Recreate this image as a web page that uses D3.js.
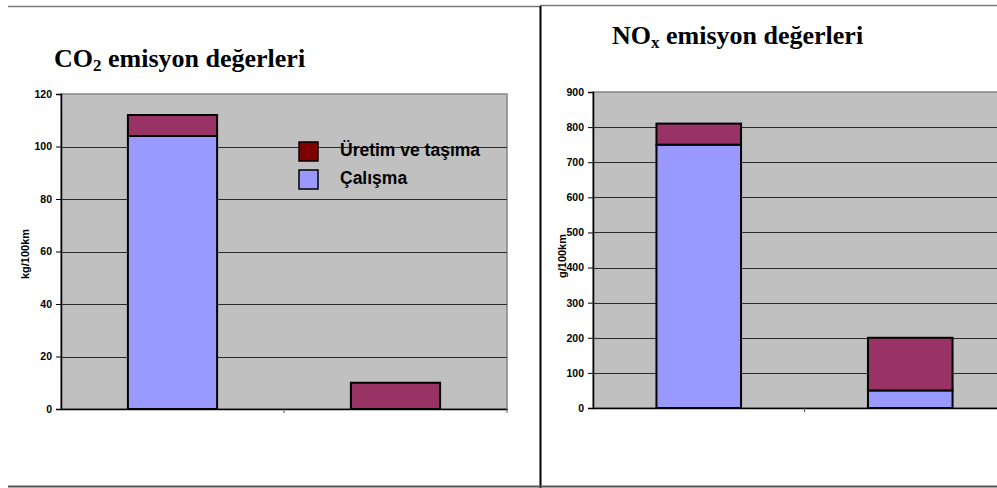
<!DOCTYPE html>
<html>
<head>
<meta charset="utf-8">
<script src="https://cdn.jsdelivr.net/npm/d3@7"></script>
<style>
  html, body { margin: 0; padding: 0; background: #fff; }
  svg { display: block; }
</style>
</head>
<body>
<svg id="chart" width="997" height="488"></svg>
<script>
// Emission comparison: two stacked bar panels
const categories = ["A", "B"];
const seriesNames = ["Çalışma", "Üretim ve taşıma"];

const co2Calisma = [104, 0];
const co2Uretim = [8, 10];
const co2Ticks = [0, 20, 40, 60, 80, 100, 120];

const noxCalisma = [750, 50];
const noxUretim = [60, 150];
const noxTicks = [0, 100, 200, 300, 400, 500, 600, 700, 800, 900];

const colors = { "Çalışma": "#9999ff", "Üretim ve taşıma": "#993366" };
const legendColors = { "Üretim ve taşıma": "#800000", "Çalışma": "#9999ff" };

const svg = d3.select("#chart");

// page frame lines
svg.append("line").attr("x1", 8).attr("x2", 540).attr("y1", 6.5).attr("y2", 6.5)
  .attr("stroke", "#7a7a7a").attr("stroke-width", 1.5);
svg.append("line").attr("x1", 540).attr("x2", 997).attr("y1", 5.5).attr("y2", 5.5)
  .attr("stroke", "#7a7a7a").attr("stroke-width", 1.5);
svg.append("line").attr("x1", 540.5).attr("x2", 540.5).attr("y1", 6).attr("y2", 488)
  .attr("stroke", "#000").attr("stroke-width", 2);
svg.append("line").attr("x1", 8).attr("x2", 997).attr("y1", 486.5).attr("y2", 486.5)
  .attr("stroke", "#555").attr("stroke-width", 2);

function panel(opts) {
  const g = svg.append("g");
  const x = d3.scaleBand().domain(categories).range([opts.left, opts.right]).paddingInner(0).paddingOuter(0);
  const y = d3.scaleLinear().domain([0, opts.max]).range([opts.bottom, opts.top]);

  // plot area
  g.append("rect").attr("x", opts.left).attr("y", opts.top)
    .attr("width", opts.right - opts.left).attr("height", opts.bottom - opts.top)
    .attr("fill", "#c0c0c0").attr("stroke", "#858585").attr("stroke-width", 1.5);

  // gridlines
  g.append("g").selectAll("line").data(opts.ticks.filter(t => t > 0 && t < opts.max)).join("line")
    .attr("x1", opts.left).attr("x2", opts.right)
    .attr("y1", d => Math.round(y(d)) + 0.5).attr("y2", d => Math.round(y(d)) + 0.5)
    .attr("stroke", "#2a2a2a").attr("stroke-width", 1);

  // stacked bars
  const rows = categories.map((c, i) => ({ cat: c, "Çalışma": opts.calisma[i], "Üretim ve taşıma": opts.uretim[i] }));
  const stack = d3.stack().keys(seriesNames)(rows);
  const bw = x.bandwidth() / 2.5;
  stack.forEach(layer => {
    g.append("g").selectAll("rect").data(layer.filter(d => d[1] - d[0] > 0)).join("rect")
      .attr("x", d => x(d.data.cat) + (x.bandwidth() - bw) / 2)
      .attr("width", bw)
      .attr("y", d => y(d[1]))
      .attr("height", d => y(d[0]) - y(d[1]))
      .attr("fill", colors[layer.key])
      .attr("stroke", "#000").attr("stroke-width", 2);
  });

  // value axis
  const yAxis = d3.axisLeft(y).tickValues(opts.ticks).tickSize(5).tickPadding(4).tickFormat(d3.format("d"));
  const ya = g.append("g").attr("transform", `translate(${opts.left},0)`).call(yAxis);
  ya.select(".domain").attr("stroke", "#000").attr("stroke-width", 1.5);
  ya.selectAll(".tick line").attr("stroke", "#000");
  ya.selectAll("text").attr("font-family", "Liberation Sans, Arial, sans-serif")
    .attr("font-weight", "bold").attr("font-size", 10.5).attr("fill", "#000");

  // category axis (tick marks only)
  const xAxis = d3.axisBottom(x).tickValues([]).tickSizeOuter(0);
  const xa = g.append("g").attr("transform", `translate(0,${opts.bottom})`).call(xAxis);
  xa.select(".domain").attr("stroke", "#000").attr("stroke-width", 1.5);
  const bounds = [opts.left + x.bandwidth(), opts.left + 2 * x.bandwidth()];
  g.append("g").selectAll("line").data(bounds).join("line")
    .attr("x1", d => d).attr("x2", d => d)
    .attr("y1", opts.bottom).attr("y2", opts.bottom + 4)
    .attr("stroke", "#555").attr("stroke-width", 1);

  // unit label
  g.append("text")
    .attr("transform", `translate(${opts.unitX},${opts.unitY}) rotate(-90)`)
    .attr("text-anchor", "middle")
    .attr("font-family", "Liberation Sans, Arial, sans-serif")
    .attr("font-weight", "bold").attr("font-size", 11)
    .text(opts.unit);

  // title with subscript
  const t = g.append("text").attr("x", opts.titleX).attr("y", opts.titleY)
    .attr("font-family", "Liberation Serif, Times New Roman, serif")
    .attr("font-weight", "bold").attr("font-size", 26).attr("fill", "#000");
  t.append("tspan").text(opts.titleMain);
  t.append("tspan").attr("font-size", 17).attr("dy", 4).text(opts.titleSub);
  t.append("tspan").attr("dy", -4).text(opts.titleRest);

  return g;
}

const co2 = panel({
  left: 61, right: 507, top: 94, bottom: 409, max: 120,
  ticks: co2Ticks, calisma: co2Calisma, uretim: co2Uretim,
  unit: "kg/100km", unitX: 29, unitY: 254,
  titleX: 54, titleY: 67, titleMain: "CO", titleSub: "2", titleRest: " emisyon değerleri"
});

// legend
const legend = co2.append("g");
const legendItems = ["Üretim ve taşıma", "Çalışma"];
legend.selectAll("rect").data(legendItems).join("rect")
  .attr("x", 299).attr("y", (d, i) => 142 + i * 28)
  .attr("width", 19).attr("height", 19)
  .attr("fill", d => legendColors[d]).attr("stroke", "#000").attr("stroke-width", 1.5);
legend.selectAll("text").data(legendItems).join("text")
  .attr("x", 340).attr("y", (d, i) => 156 + i * 28)
  .attr("font-family", "Liberation Sans, Arial, sans-serif")
  .attr("font-weight", "bold").attr("font-size", 17.5).attr("fill", "#000")
  .text(d => d);

panel({
  left: 593, right: 1016, top: 92, bottom: 408, max: 900,
  ticks: noxTicks, calisma: noxCalisma, uretim: noxUretim,
  unit: "g/100km", unitX: 566, unitY: 256,
  titleX: 612, titleY: 44, titleMain: "NO", titleSub: "x", titleRest: " emisyon değerleri"
});
</script>
</body>
</html>
